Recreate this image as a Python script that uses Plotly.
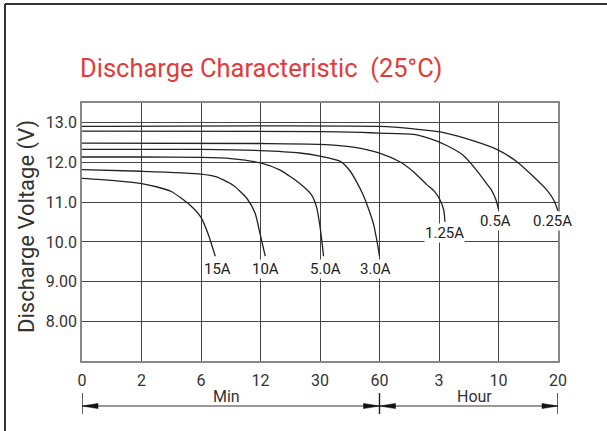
import plotly.graph_objects as go

# ---------------- data ----------------
tick_labels = ["0", "2", "6", "12", "30", "60", "3", "10", "20"]   # x-axis (Min | Hour)
y_ticks = [8, 9, 10, 11, 12, 13]
y_tick_labels = ["8.00", "9.00", "10.0", "11.0", "12.0", "13.0"]

# x given in axis-position units (one unit per printed tick)
c15_x = [0, 0.5, 1.0, 1.25, 1.5, 1.8, 2.0, 2.12, 2.24]
c15_y = [11.60, 11.55, 11.47, 11.39, 11.27, 10.95, 10.62, 10.20, 9.64]

c10_x = [0, 1, 2, 2.26, 2.54, 2.77, 2.91, 2.99, 3.08]
c10_y = [11.82, 11.78, 11.71, 11.64, 11.43, 11.10, 10.72, 10.22, 9.64]

c5_x = [0, 1, 2, 2.5, 3.0, 3.33, 3.66, 3.86, 3.94, 4.0, 4.06]
c5_y = [12.14, 12.14, 12.13, 12.10, 11.99, 11.81, 11.47, 11.18, 10.89, 10.39, 9.64]

c3_x = [0, 2, 3, 3.66, 4.0, 4.34, 4.5, 4.62, 4.72, 4.8, 4.9, 4.96, 5.0]
c3_y = [12.33, 12.33, 12.30, 12.24, 12.16, 12.03, 11.80, 11.50, 11.20, 10.90, 10.45, 10.00, 9.64]

c125_x = [0, 3, 4, 4.56, 5.0, 5.34, 5.57, 5.79, 5.92, 6.02, 6.08, 6.1]
c125_y = [12.49, 12.48, 12.46, 12.39, 12.24, 12.02, 11.77, 11.45, 11.28, 11.05, 10.80, 10.51]

c05_x = [0, 4, 4.7, 5.0, 5.57, 5.85, 6.13, 6.41, 6.63, 6.8, 6.88, 6.96, 7.0]
c05_y = [12.79, 12.78, 12.76, 12.74, 12.71, 12.60, 12.43, 12.18, 11.81, 11.47, 11.31, 11.05, 10.82]

c025_x = [0, 5.0, 5.57, 6.02, 6.46, 6.97, 7.31, 7.59, 7.81, 7.93, 8.0]
c025_y = [12.91, 12.91, 12.85, 12.77, 12.60, 12.33, 12.02, 11.64, 11.31, 11.05, 10.78]

curve_names = ["15A", "10A", "5.0A", "3.0A", "1.25A", "0.5A", "0.25A"]
curves_x = [c15_x, c10_x, c5_x, c3_x, c125_x, c05_x, c025_x]
curves_y = [c15_y, c10_y, c5_y, c3_y, c125_y, c05_y, c025_y]

# ---------------- figure ----------------
FONT = "Roboto, 'Noto Sans', sans-serif"
fig = go.Figure()
for name, xs, ys in zip(curve_names, curves_x, curves_y):
    fig.add_trace(go.Scatter(x=xs, y=ys, mode="lines", name=name,
                             line=dict(color="#222222", width=1.3, shape="spline", smoothing=0.6),
                             showlegend=False, hoverinfo="skip"))

# curve labels
label_pos = {"15A": (2.27, 9.31), "10A": (3.08, 9.31), "5.0A": (4.1, 9.31), "3.0A": (4.94, 9.31),
             "1.25A": (6.1, 10.23), "0.5A": (6.95, 10.53), "0.25A": (7.9, 10.53)}
for name in curve_names:
    x, y = label_pos[name]
    fig.add_annotation(x=x, y=y, text=name, showarrow=False, xanchor="center", yanchor="middle",
                       font=dict(size=15, color="#222222", family=FONT),
                       bgcolor="white", borderpad=0)

PLOT_L, PLOT_R, PLOT_T, PLOT_B = 82, 558, 103, 361
W, H = 607, 431
pw, ph = PLOT_R - PLOT_L, PLOT_B - PLOT_T

def px2px_x(px):
    return (px - PLOT_L) / pw

def px2py(py):
    return (PLOT_B - py) / ph

# y-axis title
fig.add_annotation(xref="paper", yref="paper", x=px2px_x(27), y=px2py(227),
                   xanchor="center", yanchor="middle",
                   text="Discharge Voltage (V)", textangle=-90, showarrow=False,
                   font=dict(size=22, color="#333333", family=FONT))

# Min / Hour labels
fig.add_annotation(xref="x", yref="paper", x=2.43, y=px2py(396), text="Min", showarrow=False,
                   xanchor="center", yanchor="middle",
                   font=dict(size=16, color="#333333", family=FONT))
fig.add_annotation(xref="x", yref="paper", x=6.59, y=px2py(396), text="Hour", showarrow=False,
                   xanchor="center", yanchor="middle",
                   font=dict(size=16, color="#333333", family=FONT))

shapes = []
ya = px2py(406)
shapes.append(dict(type="line", xref="x", yref="paper", x0=0, x1=8, y0=ya, y1=ya,
                   line=dict(color="#333333", width=1.2)))
for xv in [0, 5, 8]:
    shapes.append(dict(type="line", xref="x", yref="paper", x0=xv, x1=xv,
                       y0=px2py(393), y1=px2py(414), line=dict(color="#222222", width=1.4)))
L = 16 / (pw / 8)
hh = 2.6 / ph
for tip, direction in [(0, 1), (5, -1), (5, 1), (8, -1)]:
    base = tip + direction * L
    shapes.append(dict(type="path", xref="x", yref="paper",
                       path=f"M {tip},{ya} L {base},{ya + hh} L {base},{ya - hh} Z",
                       fillcolor="#111111", line=dict(color="#111111", width=0.5)))

# outer frame (top and left)
shapes.append(dict(type="line", xref="paper", yref="paper", x0=px2px_x(5), x1=px2px_x(607),
                   y0=px2py(4), y1=px2py(4), line=dict(color="#333333", width=2)))
shapes.append(dict(type="line", xref="paper", yref="paper", x0=px2px_x(5), x1=px2px_x(5),
                   y0=px2py(4), y1=px2py(431), line=dict(color="#333333", width=2)))

fig.update_layout(
    width=W, height=H,
    margin=dict(l=PLOT_L, r=W - PLOT_R, t=PLOT_T, b=H - PLOT_B),
    paper_bgcolor="white", plot_bgcolor="white",
    font=dict(family=FONT, color="#333333"),
    title=dict(text="Discharge Characteristic  (25°C)", xref="container", yref="container",
               x=80 / W, xanchor="left", y=1 - 68 / H, yanchor="middle",
               font=dict(size=25.5, color="#e23b3b", family=FONT)),
    shapes=shapes,
    xaxis=dict(range=[0, 8], tickvals=list(range(9)), ticktext=tick_labels,
               showgrid=True, gridcolor="#444444", gridwidth=1, zeroline=False,
               showline=True, mirror=True, linecolor="#888888", linewidth=1.5,
               ticks="", tickfont=dict(size=16, color="#333333"), ticklabelstandoff=4),
    yaxis=dict(range=[7, 13.5], tickvals=y_ticks, ticktext=y_tick_labels,
               showgrid=True, gridcolor="#444444", gridwidth=1, zeroline=False,
               showline=True, mirror=True, linecolor="#888888", linewidth=1.5,
               ticks="", tickfont=dict(size=16, color="#333333")),
)

fig.write_html("out.html", config={"displayModeBar": False},
               post_script="document.documentElement.style.margin='0';"
                           "document.body.style.margin='0';"
                           "document.body.style.overflow='hidden';")
